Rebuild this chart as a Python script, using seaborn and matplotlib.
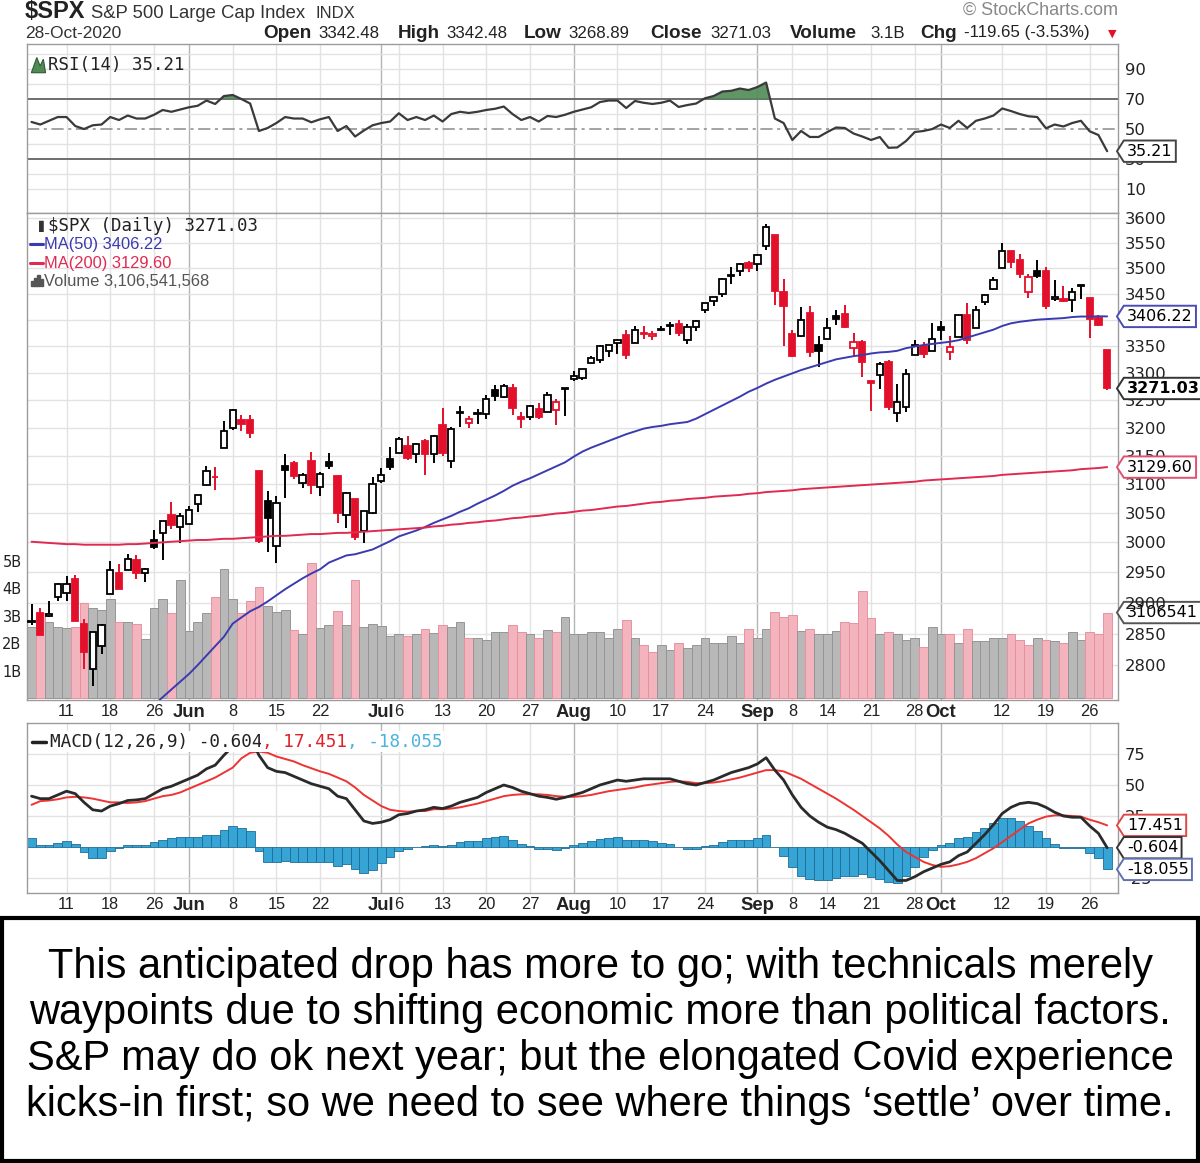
#################################################################
## $SPX daily chart (StockCharts style) with RSI, volume and MACD
#################################################################

'''IMPORTS'''
import numpy as np
import pandas as pd
import matplotlib
matplotlib.use("Agg")
import matplotlib.pyplot as plt
import seaborn as sns
from matplotlib.path import Path
from matplotlib.patches import Rectangle
from matplotlib.lines import Line2D
from matplotlib.ticker import FixedLocator, NullLocator
from matplotlib.transforms import blended_transform_factory

'''DATA'''
first_day = "2020-05-05"
last_day = "2020-10-28"
holidays = ["2020-05-25", "2020-07-03", "2020-09-07"]
prev_close = 2842.74   # close of May 4, colours the first candle

opens = [2868.88, 2883.14, 2878.26, 2908.83, 2915.46, 2939.50, 2865.86, 2794.54, 2829.95, 2913.86, 2948.59, 2953.63, 2969.95, 2948.05, 3004.08, 3015.65, 3046.61, 3025.17,
         3031.00, 3064.78, 3098.90, 3111.56, 3163.84, 3199.92, 3213.32, 3213.42, 3123.53, 3071.04, 2993.76, 3131.00, 3136.13, 3101.64, 3140.29, 3094.42, 3138.70, 3114.40, 3046.60, 3073.20, 3018.59, 3050.20,
         3105.92, 3143.64, 3155.29, 3166.44, 3153.07, 3176.17, 3152.47, 3205.08, 3141.11, 3225.98, 3208.36, 3224.21, 3224.29, 3268.52, 3254.86, 3271.64, 3218.58, 3219.84, 3234.27, 3227.22, 3231.76, 3270.45,
         3288.26, 3289.92, 3317.37, 3323.17, 3340.05, 3356.04, 3370.34, 3355.46, 3372.95, 3368.66, 3380.86, 3387.04, 3392.51, 3360.48, 3386.01, 3418.09, 3435.95, 3449.97, 3485.14, 3494.69, 3509.73,
         3507.44, 3543.76, 3564.74, 3453.60, 3371.88, 3369.82, 3412.56, 3352.70, 3363.56, 3407.73, 3411.23, 3346.86, 3357.38, 3285.57, 3295.75, 3320.11, 3226.14, 3236.66, 3333.90, 3350.92, 3341.21,
         3385.87, 3338.94, 3367.27, 3408.74, 3384.56, 3434.28, 3459.67, 3500.02, 3534.01, 3515.47, 3453.72, 3493.50, 3493.66, 3439.38, 3439.91, 3438.50, 3464.90, 3441.42, 3403.15, 3342.48]
highs = [2898.23, 2891.11, 2901.92, 2932.16, 2944.25, 2945.82, 2874.14, 2852.80, 2865.01, 2968.09, 2964.21, 2980.29, 2978.50, 2956.76, 3021.72, 3036.25, 3068.67, 3049.17,
         3062.18, 3081.07, 3130.94, 3128.91, 3211.72, 3233.13, 3222.71, 3223.27, 3123.53, 3088.42, 3079.76, 3153.45, 3141.16, 3120.00, 3155.53, 3120.92, 3154.90, 3115.01, 3086.25, 3073.73, 3053.89, 3111.51,
         3128.44, 3165.81, 3182.59, 3184.15, 3171.80, 3179.78, 3186.82, 3235.32, 3200.95, 3238.28, 3220.39, 3233.52, 3258.61, 3277.29, 3279.32, 3279.99, 3227.26, 3241.43, 3243.72, 3264.74, 3250.92, 3272.17,
         3302.73, 3306.84, 3330.77, 3351.03, 3352.54, 3363.29, 3381.01, 3387.89, 3387.24, 3378.51, 3387.59, 3395.06, 3399.54, 3390.80, 3399.96, 3432.09, 3444.21, 3481.07, 3501.38, 3509.23, 3514.77,
         3528.03, 3588.11, 3564.85, 3479.15, 3379.97, 3424.77, 3425.55, 3368.95, 3402.93, 3419.48, 3428.92, 3375.17, 3362.27, 3285.57, 3320.31, 3323.35, 3278.70, 3306.88, 3360.74, 3357.92, 3393.56,
         3397.18, 3369.10, 3409.57, 3431.56, 3426.26, 3447.28, 3482.34, 3549.85, 3534.01, 3527.94, 3489.08, 3515.76, 3502.42, 3476.93, 3464.86, 3460.53, 3466.46, 3441.42, 3409.51, 3342.48]
lows = [2863.55, 2847.65, 2876.48, 2902.88, 2903.44, 2869.59, 2793.15, 2766.64, 2816.78, 2913.86, 2922.35, 2953.63, 2938.57, 2933.59, 2988.17, 2969.75, 3023.40, 2998.61,
        3031.00, 3051.64, 3098.90, 3090.41, 3163.84, 3196.00, 3193.11, 3181.49, 2999.49, 2984.47, 2965.66, 3076.06, 3108.03, 3093.51, 3083.11, 3079.39, 3127.12, 3032.13, 3024.01, 3004.63, 2999.74, 3047.83,
        3101.17, 3124.52, 3155.29, 3142.93, 3136.53, 3115.70, 3136.22, 3149.43, 3127.66, 3200.76, 3198.59, 3205.65, 3215.16, 3247.77, 3253.10, 3222.66, 3200.05, 3214.25, 3216.17, 3227.22, 3204.13, 3220.26,
        3284.53, 3286.37, 3317.37, 3318.14, 3328.72, 3335.44, 3326.44, 3355.46, 3363.35, 3361.64, 3379.22, 3370.15, 3369.66, 3354.69, 3379.31, 3413.13, 3425.84, 3444.15, 3468.35, 3484.32, 3493.25,
        3494.60, 3535.23, 3427.41, 3349.63, 3329.27, 3366.84, 3329.25, 3310.47, 3363.56, 3389.25, 3384.45, 3328.82, 3292.40, 3229.10, 3270.95, 3232.57, 3209.45, 3228.44, 3332.91, 3327.54, 3340.47,
        3361.39, 3323.69, 3367.27, 3354.54, 3384.56, 3428.15, 3458.07, 3499.61, 3500.86, 3480.55, 3440.89, 3480.45, 3419.93, 3435.65, 3433.06, 3415.34, 3440.45, 3364.86, 3388.71, 3268.89]
closes = [2868.44, 2848.42, 2881.19, 2929.80, 2930.32, 2870.12, 2820.00, 2852.50, 2863.70, 2953.91, 2922.94, 2971.61, 2948.51, 2955.45, 2991.77, 3036.13, 3029.73, 3044.31,
          3055.73, 3080.82, 3122.87, 3112.35, 3193.93, 3232.39, 3207.18, 3190.14, 3002.10, 3041.31, 3066.59, 3124.74, 3113.49, 3115.34, 3097.74, 3117.86, 3131.29, 3050.33, 3083.76, 3009.05, 3053.24, 3100.29,
          3115.86, 3130.01, 3179.72, 3145.32, 3169.94, 3152.05, 3185.04, 3155.22, 3197.52, 3226.56, 3215.57, 3224.73, 3251.84, 3257.30, 3276.02, 3235.66, 3215.63, 3239.41, 3218.44, 3258.44, 3246.22, 3271.12,
          3294.61, 3306.51, 3327.77, 3349.16, 3351.28, 3360.47, 3333.69, 3380.35, 3373.43, 3372.85, 3381.99, 3389.78, 3374.85, 3385.51, 3397.16, 3431.28, 3443.62, 3478.73, 3484.55, 3508.01, 3500.31,
          3526.65, 3580.84, 3455.06, 3426.96, 3331.84, 3398.96, 3339.19, 3340.97, 3383.54, 3401.20, 3385.49, 3357.01, 3319.47, 3281.06, 3315.57, 3236.92, 3246.59, 3298.46, 3351.60, 3335.47, 3363.00,
          3380.80, 3348.42, 3408.60, 3360.97, 3419.44, 3446.83, 3477.14, 3534.22, 3511.93, 3488.67, 3483.34, 3483.81, 3426.92, 3443.12, 3435.56, 3453.49, 3465.39, 3400.97, 3390.68, 3271.03]

# volume in billions of shares
volume_b = [2.58, 3.10, 2.76, 2.58, 2.55, 2.58, 3.45, 3.27, 3.22, 3.60, 2.76, 2.76, 2.69, 2.14, 3.27, 3.60, 3.09, 4.29,
            2.44, 2.76, 3.09, 3.67, 4.69, 3.60, 3.10, 3.53, 4.04, 3.35, 3.13, 3.22, 2.47, 2.33, 4.90, 2.55, 2.65, 3.16, 2.65, 4.29, 2.58, 2.70,
            2.62, 2.25, 2.33, 2.25, 2.33, 2.51, 2.36, 2.65, 2.58, 2.77, 2.18, 2.18, 2.13, 2.39, 2.39, 2.65, 2.39, 2.33, 2.18, 2.47, 2.39, 2.95,
            2.33, 2.33, 2.39, 2.39, 2.18, 2.51, 2.84, 2.18, 1.93, 1.68, 1.93, 1.75, 2.00, 1.82, 1.93, 2.18, 2.00, 2.00, 2.25, 2.01, 2.51,
            2.19, 2.51, 3.14, 2.96, 3.02, 2.45, 2.51, 2.33, 2.33, 2.45, 2.78, 2.72, 3.90, 2.90, 2.33, 2.39, 2.32, 2.13, 2.19, 1.87, 2.57,
            2.33, 2.33, 2.01, 2.51, 2.07, 2.07, 2.19, 2.19, 2.33, 2.13, 1.93, 2.19, 2.13, 2.07, 2.01, 2.39, 2.13, 2.39, 2.33, 3.11]

ma50 = [np.nan] * 13 + [2725, 2738, 2750, 2762, 2774,
        2786, 2800, 2815, 2830, 2845, 2866, 2876, 2886, 2893, 2902, 2912, 2922, 2931, 2940, 2948, 2955, 2966, 2972, 2978, 2980, 2984, 2988,
        2995, 3002, 3010, 3015, 3020, 3026, 3033, 3039, 3045, 3052, 3058, 3066, 3073, 3080, 3088, 3097, 3104, 3110, 3117, 3124, 3131, 3138,
        3148, 3157, 3164, 3170, 3176, 3182, 3188, 3193, 3198, 3201, 3203, 3206, 3208, 3210, 3216, 3224, 3232, 3240, 3248, 3256, 3265,
        3272, 3280, 3287, 3293, 3299, 3305, 3310, 3315, 3320, 3325, 3328, 3331, 3333, 3336, 3338, 3339, 3341, 3346, 3349, 3352, 3354,
        3356, 3358, 3361, 3366, 3371, 3376, 3381, 3388, 3393, 3396, 3398, 3400, 3401, 3402, 3403, 3405, 3406, 3406, 3406.5, 3406.22]
ma200 = [3001, 3000, 2999, 2998, 2997, 2997, 2996, 2996, 2996, 2996, 2996, 2997, 2997, 2998, 2999, 3000, 3001, 3002,
         3003, 3004, 3004, 3005, 3006, 3006, 3007, 3008, 3009, 3010, 3011, 3011, 3012, 3013, 3014, 3014, 3015, 3016, 3016, 3017, 3018, 3019,
         3020, 3021, 3022, 3023, 3024, 3025, 3027, 3028, 3030, 3031, 3033, 3034, 3036, 3037, 3039, 3041, 3042, 3044, 3045, 3047, 3049, 3050,
         3052, 3054, 3055, 3057, 3059, 3061, 3062, 3064, 3066, 3068, 3069, 3071, 3072, 3074, 3075, 3076, 3078, 3079, 3080, 3081, 3083,
         3084, 3086, 3087, 3088, 3089, 3091, 3092, 3093, 3094, 3095, 3096, 3097, 3098, 3099, 3100, 3101, 3102, 3103, 3104, 3106, 3107,
         3108, 3109, 3110, 3111, 3112, 3113, 3114, 3116, 3117, 3118, 3119, 3120, 3121, 3122, 3123, 3124, 3126, 3127, 3128, 3129.6]

rsi = [54.7, 53, 55.5, 58, 58, 52, 50, 52.5, 53, 58, 56, 59, 57, 57, 59.5, 62.7, 61.5, 63,
       64.5, 65.5, 69, 66.7, 72, 72.7, 70, 67, 48.7, 50.7, 54, 58, 57, 57, 54.5, 56.5, 58, 48.7, 52, 45, 49, 52.5,
       54, 55, 60.5, 56, 58, 56, 59, 55, 60, 61.5, 60.7, 61.5, 62.7, 63.5, 65, 60, 56, 58, 55, 58.7, 58, 59.5,
       61.5, 63, 64.5, 68, 69, 69, 64, 68.7, 67.5, 66.7, 67.5, 69, 64.7, 66, 67, 70.5, 72, 75, 75.5, 77, 76,
       78, 81, 57, 54, 42.7, 48.7, 44.7, 44.7, 48, 51, 50.7, 47, 45, 42.7, 44.7, 37.5, 37.7, 42, 48, 48.7, 50,
       53, 50.7, 55.5, 50.7, 55.5, 57, 59, 63.7, 62, 60, 58.5, 58, 50.5, 53, 51.7, 54, 55.5, 48.5, 46, 35.21]

macd = [41, 39, 39, 42, 45, 43, 36, 30, 29, 33, 35, 37.5, 38, 39, 43, 47, 49, 52,
        55, 58, 63, 66, 74, 81, 87, 89, 74, 64, 61, 60, 57, 54, 51, 49, 47, 41, 39, 30, 21, 19,
        20, 22, 26, 27, 29, 30, 32, 31, 33, 36, 38, 40, 44, 47, 50, 48, 45, 43, 41, 40, 38.5, 40,
        42, 44, 47, 50, 52, 54, 53, 54, 55, 55, 55, 55, 53, 51, 50, 52, 54, 57, 60, 62, 64,
        67, 72, 62, 54, 42, 32, 25, 20, 16, 14, 11, 7, 3, -4, -11, -19, -27, -27, -24, -20, -17,
        -14, -12, -7, -4, 3, 10, 18, 27, 32, 35, 36, 35, 32, 28, 25, 24, 24, 17, 11, -0.604]
signal = [34, 37, 37.5, 38.5, 40, 40.5, 40, 39, 37.5, 36, 36, 35.5, 36, 37, 39, 41, 42, 44,
          47, 50, 53, 56, 60, 64, 71.5, 76, 77, 76, 73, 71, 69, 66, 63.5, 61, 59, 56, 53, 48, 42, 37.5,
          33, 30, 29, 28.5, 29, 29, 30.5, 30.5, 31, 32, 33.5, 35, 37, 39, 41, 42, 42.5, 42.5, 42.5, 42, 41, 40.5,
          40.5, 41, 42, 43.5, 45, 46, 47, 48, 49.5, 50.5, 51.5, 52.5, 53, 52.5, 51.5, 51.5, 52, 53, 54.5, 56, 58,
          60, 62, 62, 61, 58, 55, 51, 47, 43, 39, 34.5, 30, 25, 20, 15, 9, 2, -4, -8, -12, -14.5,
          -16, -15.5, -14, -12, -9, -5, -1, 4, 9, 14, 19, 22, 24.5, 25.5, 25.5, 25, 24.5, 22, 20, 17.451]

tick_dates = ["2020-05-11", "2020-05-18", "2020-05-26", "2020-06-01", "2020-06-08", "2020-06-15", "2020-06-22",
              "2020-07-01", "2020-07-06", "2020-07-13", "2020-07-20", "2020-07-27", "2020-08-03", "2020-08-10",
              "2020-08-17", "2020-08-24", "2020-09-01", "2020-09-08", "2020-09-14", "2020-09-21", "2020-09-28",
              "2020-10-01", "2020-10-12", "2020-10-19", "2020-10-26"]
tick_labels = ["11", "18", "26", "Jun", "8", "15", "22", "Jul", "6", "13", "20", "27", "Aug", "10",
               "17", "24", "Sep", "8", "14", "21", "28", "Oct", "12", "19", "26"]
month_labels = ["Jun", "Jul", "Aug", "Sep", "Oct"]

caption = ["This anticipated drop has more to go; with technicals merely",
           "waypoints due to shifting economic more than political factors.",
           "S&P may do ok next year; but the elongated Covid experience",
           "kicks-in first; so we need to see where things \u2018settle\u2019 over time."]

'''STYLE'''
RED = "#e3102b"
PINK = "#f4b4bd"
BAR_GRAY = "#b8b8b8"
MA50_BLUE = "#3b3bb0"
MA200_RED = "#e02a52"
HIST_BLUE = "#37a4d6"
GRID = "#e2e2e2"
MONTH_GRID = "#b4b4b4"
W_PX, H_PX = 1200, 1163


def fx(px):
    return px / W_PX


def fy(py):
    return 1 - py / H_PX


def tag_shape(x0, y0, width, height, mutation_size):
    '''pentagon tag with a point on the left, like the price labels on the site'''
    pad = 0.2 * mutation_size
    x0, y0 = x0 - pad, y0 - pad
    w, h = width + 2 * pad, height + 2 * pad
    tip = 0.32 * h
    return Path([(x0, y0), (x0 + w, y0), (x0 + w, y0 + h), (x0, y0 + h),
                 (x0 - tip, y0 + h / 2), (x0, y0)], closed=True)


def value_tag(ax, y, text, edge, weight="normal"):
    ax.annotate(text, xy=(1, y), xycoords=("axes fraction", "data"),
                xytext=(9, 0), textcoords="offset pixels", ha="left", va="center",
                fontsize=11.5, fontweight=weight, family="DejaVu Sans", color="black",
                bbox=dict(boxstyle=tag_shape, fc="white", ec=edge, lw=1.4),
                annotation_clip=False, zorder=20)


def week_grid(ax, tick_pos):
    for pos, lab in zip(tick_pos, tick_labels):
        ax.axvline(pos, color=MONTH_GRID if lab in month_labels else GRID, lw=1.0, zorder=0)


def date_axis(ax, tick_pos, n):
    ax.set_xticks(tick_pos)
    ax.set_xticklabels(tick_labels)
    for lab in ax.get_xticklabels():
        if lab.get_text() in month_labels:
            lab.set_fontweight("bold")
            lab.set_fontsize(13.3)
        else:
            lab.set_fontsize(11.8)
    ax.set_xticks(np.arange(n), minor=True)
    ax.tick_params(axis="x", which="major", length=0, pad=3, colors="#222222")
    ax.tick_params(axis="x", which="minor", length=2.5, width=0.8, color="#a0a0a0")


def right_ticks(ax, ticks, labels):
    ax.yaxis.tick_right()
    ax.yaxis.set_major_locator(FixedLocator(ticks))
    ax.yaxis.set_minor_locator(NullLocator())
    ax.set_yticklabels(labels)
    ax.tick_params(axis="y", which="both", length=0, pad=5, labelsize=11.8, labelcolor="#222222")
    for lab in ax.get_yticklabels():
        lab.set_family("DejaVu Sans")


'''MAIN FUNCTION'''
def main():
    sns.set_style("white")
    plt.rcParams["font.family"] = ["Liberation Sans", "DejaVu Sans"]
    plt.rcParams["axes.edgecolor"] = "#9c9c9c"
    plt.rcParams["axes.linewidth"] = 1.0

    days = pd.bdate_range(first_day, last_day)
    days = days[~days.isin(pd.to_datetime(holidays))]
    n = len(days)
    x = np.arange(n)
    tick_pos = days.get_indexer(pd.to_datetime(tick_dates))

    df = pd.DataFrame({"day": x, "open": opens, "high": highs, "low": lows, "close": closes,
                       "volume": volume_b, "ma50": ma50, "ma200": ma200, "rsi": rsi,
                       "macd": macd, "signal": signal})
    df["prev"] = [prev_close] + closes[:-1]
    df["hist"] = df["macd"] - df["signal"]

    xlim = (-0.52, 124.24)
    fig = plt.figure(figsize=(12, 11.63), dpi=100)
    left, width = fx(27), fx(1118) - fx(27)

    # ---------------- RSI panel ----------------
    ax_rsi = fig.add_axes([left, fy(213), width, (213 - 44) / H_PX])
    ax_rsi.set_xlim(*xlim)
    ax_rsi.set_ylim(-6, 106.7)
    week_grid(ax_rsi, tick_pos)
    for lvl in [10, 20, 40, 60, 80, 90, 100]:
        ax_rsi.axhline(lvl, color=GRID, lw=1.0, zorder=0)
    ax_rsi.axhline(70, color="#6e6e6e", lw=1.4, zorder=1)
    ax_rsi.axhline(30, color="#6e6e6e", lw=1.4, zorder=1)
    ax_rsi.axhline(50, color="#8a8a8a", lw=1.1, ls=(0, (8, 3, 2, 3)), zorder=1)
    ax_rsi.fill_between(df["day"], 70, df["rsi"], where=df["rsi"] > 70, interpolate=True,
                        color="#4f8a55", alpha=0.9, lw=0, zorder=2)
    sns.lineplot(data=df, x="day", y="rsi", ax=ax_rsi, color="#3a3a3a", lw=1.6, zorder=3)
    right_ticks(ax_rsi, [10, 30, 50, 70, 90], ["10", "30", "50", "70", "90"])
    ax_rsi.set_xticks(tick_pos)
    ax_rsi.tick_params(axis="x", length=0, labelbottom=False)
    ax_rsi.set_xlabel("")
    ax_rsi.set_ylabel("")
    value_tag(ax_rsi, rsi[-1], "35.21", "#444444")
    ax_rsi.text(0.019, 0.93, "RSI(14) 35.21", transform=ax_rsi.transAxes, ha="left", va="top",
                family="DejaVu Sans Mono", fontsize=12.5, color="#222222")
    ax_rsi.fill([0.004, 0.009, 0.012, 0.015, 0.017, 0.004], [0.83, 0.92, 0.87, 0.91, 0.83, 0.83],
                transform=ax_rsi.transAxes, color="#4f8a55", ec="#2f5a35", lw=0.8)

    # ---------------- price panel: volume underneath ----------------
    rect = [left, fy(700), width, (700 - 213) / H_PX]
    ax_vol = fig.add_axes(rect, zorder=1)
    ax_px = fig.add_axes(rect, zorder=2)
    ax_px.patch.set_alpha(0)
    for ax in (ax_vol, ax_px):
        ax.set_xlim(*xlim)

    ax_px.set_yscale("log")
    ax_px.set_ylim(2745.6, 3610.1)
    ax_vol.set_ylim(-0.07, 17.64)

    week_grid(ax_vol, tick_pos)
    price_levels = list(range(2800, 3601, 50))
    tr = blended_transform_factory(ax_vol.transAxes, ax_px.transData)
    for p in price_levels:
        ax_vol.add_line(Line2D([0, 1], [p, p], transform=tr, color=GRID, lw=1.0, zorder=0))

    down = df["close"] < df["prev"]
    ax_vol.bar(df["day"], df["volume"], width=1.0,
               color=np.where(down, PINK, BAR_GRAY),
               edgecolor=np.where(down, "#e592a0", "#959595"), lw=0.7, zorder=2)

    # candles
    col = np.where(down, RED, "black")
    body_lo = np.minimum(df["open"], df["close"])
    body_hi = np.maximum(df["open"], df["close"])
    body_hi = np.maximum(body_hi, body_lo + 1.2)
    face = np.where(df["close"] >= df["open"], "white", col)
    ax_px.vlines(df["day"], df["low"], df["high"], colors=col, lw=1.4, zorder=3)
    ax_px.bar(df["day"], body_hi - body_lo, bottom=body_lo, width=0.72,
              color=face, edgecolor=col, lw=1.3, zorder=4)

    sns.lineplot(data=df, x="day", y="ma50", ax=ax_px, color=MA50_BLUE, lw=1.4, zorder=5)
    sns.lineplot(data=df, x="day", y="ma200", ax=ax_px, color=MA200_RED, lw=1.4, zorder=5)

    # 3400 sits under the MA(50) tag, as on the original
    right_ticks(ax_px, price_levels, ["" if p == 3400 else str(p) for p in price_levels])
    ax_px.tick_params(axis="x", length=0, labelbottom=False)
    ax_px.set_xlabel("")
    ax_px.set_ylabel("")
    for s in ax_px.spines.values():
        s.set_visible(False)

    ax_vol.yaxis.tick_left()
    ax_vol.set_yticks([1, 2, 3, 4, 5])
    ax_vol.set_yticklabels(["1B", "2B", "3B", "4B", "5B"])
    ax_vol.tick_params(axis="y", length=0, pad=4, labelsize=10.5, labelcolor="#222222")
    for lab in ax_vol.get_yticklabels():
        lab.set_family("DejaVu Sans")
    date_axis(ax_vol, tick_pos, n)

    value_tag(ax_px, ma50[-1], "3406.22", "#4b4bb5")
    value_tag(ax_px, closes[-1], "3271.03", "#333333", weight="bold")
    value_tag(ax_px, ma200[-1], "3129.60", "#e0506f")
    value_tag(ax_vol, volume_b[-1], "3106541", "#555555")

    ax_px.text(0.019, 0.973, "$SPX (Daily) 3271.03", transform=ax_px.transAxes, ha="left", va="center",
               family="DejaVu Sans Mono", fontsize=12.5, color="#222222", zorder=8)
    ax_px.text(0.004, 0.973, "\u2595\u258c", transform=ax_px.transAxes, ha="left", va="center",
               family="DejaVu Sans", fontsize=8, color="#333333", zorder=8)
    legend_rows = [("MA(50) 3406.22", MA50_BLUE, 0.936), ("MA(200) 3129.60", MA200_RED, 0.897)]
    for txt, c, yy in legend_rows:
        ax_px.plot([0.003, 0.015], [yy, yy], transform=ax_px.transAxes, color=c, lw=2.2, zorder=8)
        ax_px.text(0.016, yy, txt, transform=ax_px.transAxes, ha="left", va="center",
                   fontsize=11.9, color=c, zorder=8)
    ax_px.text(0.016, 0.860, "Volume 3,106,541,568", transform=ax_px.transAxes, ha="left", va="center",
               fontsize=11.9, color="#555555", zorder=8)
    for k, hgt in enumerate([0.010, 0.016, 0.022, 0.013]):
        ax_px.add_patch(Rectangle((0.004 + k * 0.0028, 0.851), 0.0021, hgt,
                                  transform=ax_px.transAxes, color="#555555", zorder=8))

    # ---------------- MACD panel ----------------
    ax_m = fig.add_axes([left, fy(893), width, (893 - 723) / H_PX])
    ax_m.set_xlim(*xlim)
    ax_m.set_ylim(-37.1, 100)
    week_grid(ax_m, tick_pos)
    for lvl in [-25, 25, 50, 75]:
        ax_m.axhline(lvl, color=GRID, lw=1.0, zorder=0)
    ax_m.bar(df["day"], df["hist"], width=1.0, color=HIST_BLUE, edgecolor="#1d6d96", lw=0.6, zorder=2)
    sns.lineplot(data=df, x="day", y="signal", ax=ax_m, color="#ee3333", lw=1.4, zorder=3)
    sns.lineplot(data=df, x="day", y="macd", ax=ax_m, color="#2a2a2a", lw=2.0, zorder=4)
    right_ticks(ax_m, [-25, 25, 50, 75], ["-25", "25", "50", "75"])
    ax_m.set_xlabel("")
    ax_m.set_ylabel("")
    date_axis(ax_m, tick_pos, n)
    value_tag(ax_m, signal[-1], "17.451", "#e04848")
    value_tag(ax_m, macd[-1], "-0.604", "#333333")
    value_tag(ax_m, df["hist"].iloc[-1], "-18.055", "#6070b0")

    ax_m.plot([0.005, 0.017], [0.89, 0.89], transform=ax_m.transAxes, color="#222222", lw=2.5, zorder=9)
    t1 = ax_m.text(0.021, 0.89, "MACD(12,26,9) -0.604", transform=ax_m.transAxes, ha="left", va="center",
                   family="DejaVu Sans Mono", fontsize=12.7, color="#222222", zorder=9,
                   bbox=dict(fc="white", ec="none", pad=1))
    t2 = ax_m.annotate(", 17.451", xy=(1, 0.5), xycoords=t1, ha="left", va="center",
                       family="DejaVu Sans Mono", fontsize=12.7, color="#e0202a", zorder=9,
                       bbox=dict(fc="white", ec="none", pad=1))
    ax_m.annotate(", -18.055", xy=(1, 0.5), xycoords=t2, ha="left", va="center",
                  family="DejaVu Sans Mono", fontsize=12.7, color="#4ab3df", zorder=9,
                  bbox=dict(fc="white", ec="none", pad=1))

    # ---------------- header ----------------
    fig.text(fx(25), fy(12), "$SPX", fontsize=17, fontweight="bold", va="center", color="#222222")
    fig.text(fx(91), fy(13), "S&P 500 Large Cap Index", fontsize=13.3, va="center", color="#333333")
    fig.text(fx(316), fy(14), "INDX", fontsize=12, va="center", color="#333333")
    fig.text(fx(1118), fy(10), "\u00a9 StockCharts.com", fontsize=13, va="center", ha="right", color="#888888")
    fig.text(fx(25), fy(33), "28-Oct-2020", fontsize=12.5, va="center", color="#333333")
    header = [("Open", 263, True), ("3342.48", 318, False), ("High", 398, True), ("3342.48", 446, False),
              ("Low", 524, True), ("3268.89", 568, False), ("Close", 650, True), ("3271.03", 710, False),
              ("Volume", 790, True), ("3.1B", 870, False), ("Chg", 920, True), ("-119.65 (-3.53%)", 964, False)]
    for txt, px, bold in header:
        fig.text(fx(px), fy(33), txt, fontsize=13.6 if bold else 12.2, fontweight="bold" if bold else "normal",
                 va="center", color="#222222")
    fig.text(fx(1108), fy(34), "\u25bc", fontsize=8, va="center", color=RED, family="DejaVu Sans")

    # ---------------- caption box ----------------
    fig.add_artist(Rectangle((fx(2), fy(1161)), fx(1196), (1161 - 918) / H_PX, transform=fig.transFigure,
                             fill=False, ec="black", lw=3))
    for k, line in enumerate(caption):
        fig.text(0.5, fy(967 + 46 * k), line, ha="center", va="center", fontsize=30.0, color="black")

    fig.savefig("out.png", dpi=100)


if __name__ == "__main__":
    main()
